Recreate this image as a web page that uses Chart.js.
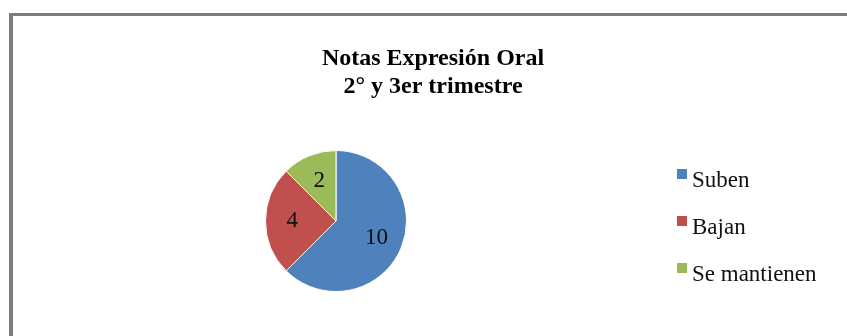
<!DOCTYPE html>
<html>
<head>
<meta charset="utf-8">
<script src="https://cdn.jsdelivr.net/npm/chart.js@4"></script>
<style>
  html, body { margin: 0; padding: 0; background: #fff; }
  #wrap { position: relative; width: 847px; height: 336px; overflow: hidden; background: #fff; }
  #frame { position: absolute; left: 9px; top: 13px; width: 860px; height: 340px;
           border-left: 4px solid #7d7d7d; border-top: 3px solid #7d7d7d; box-sizing: border-box; }
  canvas { position: absolute; left: 0; top: 0; }
</style>
</head>
<body>
<div id="wrap">
  <div id="frame"></div>
  <canvas id="c" width="847" height="336"></canvas>
</div>
<script>
const titleLines = ["Notas Expresión Oral", "2° y 3er trimestre"];
const categories = ["Suben", "Bajan", "Se mantienen"];
const values = [10, 4, 2];
const colors = ["#4F81BD", "#C0504D", "#9BBB59"];

const serif = '"Liberation Serif", "DejaVu Serif", serif';

const decor = {
  id: 'decor',
  afterDraw(chart) {
    const ctx = chart.ctx;
    ctx.save();
    ctx.fillStyle = '#000';
    ctx.font = 'bold 24px ' + serif;
    ctx.textAlign = 'center';
    ctx.textBaseline = 'alphabetic';
    titleLines.forEach((t, i) => ctx.fillText(t, 433, 65 + i * 28));

    const meta = chart.getDatasetMeta(0);
    ctx.font = '23px ' + serif;
    ctx.textBaseline = 'middle';
    meta.data.forEach((arc, i) => {
      const p = arc.getProps(['x', 'y', 'startAngle', 'endAngle', 'outerRadius'], true);
      const mid = (p.startAngle + p.endAngle) / 2;
      const f = 0.62;
      const lx = p.x + Math.cos(mid) * p.outerRadius * f;
      const ly = p.y + Math.sin(mid) * p.outerRadius * f;
      ctx.fillStyle = '#0d0d0d';
      ctx.fillText(String(chart.data.datasets[0].data[i]), lx, ly);
    });

    ctx.textAlign = 'left';
    ctx.textBaseline = 'alphabetic';
    ctx.font = '23px ' + serif;
    chart.data.labels.forEach((lab, i) => {
      const base = 187 + i * 47;
      ctx.fillStyle = chart.data.datasets[0].backgroundColor[i];
      ctx.fillRect(677, base - 18, 10, 10);
      ctx.fillStyle = '#111';
      ctx.fillText(lab, 692, base);
    });
    ctx.restore();
  }
};

new Chart(document.getElementById('c'), {
  type: 'pie',
  data: {
    labels: categories,
    datasets: [{
      data: values,
      backgroundColor: colors,
      borderColor: '#ffffff',
      borderWidth: 1
    }]
  },
  options: {
    responsive: false,
    animation: false,
    layout: { padding: { left: 265, top: 150, right: 440, bottom: 44 } },
    plugins: { legend: { display: false }, title: { display: false }, tooltip: { enabled: false } }
  },
  plugins: [decor]
});
</script>
</body>
</html>
